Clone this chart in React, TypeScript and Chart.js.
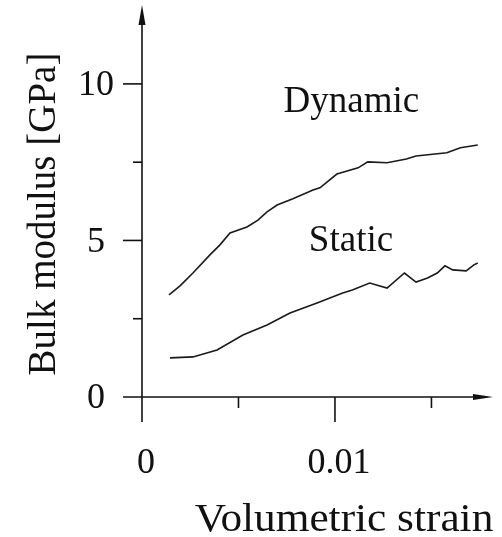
import React, { useEffect, useRef } from "react";
import { Chart, registerables } from "chart.js";

Chart.register(...registerables);

// Volumetric strain (x) and bulk modulus in GPa (y)
const dynamicStrain = [0.0014, 0.00197, 0.00264, 0.00352, 0.00404, 0.00456, 0.00544, 0.00601, 0.00648, 0.007, 0.00782, 0.00886, 0.00922, 0.0101, 0.0112, 0.0117, 0.0127, 0.0137, 0.0142, 0.0158, 0.0165, 0.0174];
const dynamicModulus = [3.26, 3.55, 3.96, 4.54, 4.86, 5.24, 5.43, 5.65, 5.91, 6.13, 6.33, 6.61, 6.68, 7.12, 7.32, 7.51, 7.48, 7.6, 7.7, 7.8, 7.96, 8.05];

const staticStrain = [0.00145, 0.00264, 0.00389, 0.00523, 0.00648, 0.00767, 0.00907, 0.0104, 0.0109, 0.0118, 0.0127, 0.0136, 0.0142, 0.0148, 0.0153, 0.0157, 0.0161, 0.0168, 0.0172, 0.0174];
const staticModulus = [1.25, 1.28, 1.5, 1.98, 2.3, 2.68, 3.0, 3.32, 3.42, 3.64, 3.48, 3.96, 3.67, 3.8, 3.96, 4.19, 4.06, 4.03, 4.22, 4.28];

const xTickValues = [0, 0.005, 0.01, 0.015];
const xTickLabels = ["0", "", "0.01", ""];
const yTickValues = [0, 2.5, 5, 7.5, 10];
const yTickLabels = ["0", "", "5", "", "10"];

const seriesNames = ["Dynamic", "Static"];
const xTitle = "Volumetric strain";
const yTitle = "Bulk modulus [GPa]";

const FONT = "'Liberation Serif', 'Times New Roman', Times, serif";
const INK = "#111";

const axesPlugin = {
  id: "axesPlugin",
  afterDraw(chart: any) {
    const ctx = chart.ctx as CanvasRenderingContext2D;
    const xs = chart.scales.x;
    const ys = chart.scales.y;
    const area = chart.chartArea;
    const x0 = xs.getPixelForValue(0);
    const y0 = ys.getPixelForValue(0);
    ctx.save();
    ctx.strokeStyle = INK;
    ctx.fillStyle = INK;
    ctx.lineWidth = 1.6;

    // y axis (extends below x axis as the 0 tick)
    ctx.beginPath();
    ctx.moveTo(x0, y0 + 25);
    ctx.lineTo(x0, area.top + 10);
    ctx.stroke();
    // x axis (extends left of y axis as the 0 tick)
    ctx.beginPath();
    ctx.moveTo(x0 - 19, y0);
    ctx.lineTo(area.right - 10, y0);
    ctx.stroke();

    // arrowheads
    ctx.beginPath();
    ctx.moveTo(x0, area.top);
    ctx.lineTo(x0 - 3.5, area.top + 20);
    ctx.lineTo(x0 + 3.5, area.top + 20);
    ctx.closePath();
    ctx.fill();
    ctx.beginPath();
    ctx.moveTo(area.right, y0);
    ctx.lineTo(area.right - 20, y0 - 3);
    ctx.lineTo(area.right - 20, y0 + 3);
    ctx.closePath();
    ctx.fill();

    // x ticks
    xTickValues.forEach((v, i) => {
      if (v === 0) return;
      const px = xs.getPixelForValue(v);
      const len = xTickLabels[i] ? 25 : 11;
      ctx.beginPath();
      ctx.moveTo(px, y0);
      ctx.lineTo(px, y0 + len);
      ctx.stroke();
    });
    // y ticks
    yTickValues.forEach((v, i) => {
      if (v === 0) return;
      const py = ys.getPixelForValue(v);
      const len = yTickLabels[i] ? 19 : 9;
      ctx.beginPath();
      ctx.moveTo(x0 - len, py);
      ctx.lineTo(x0, py);
      ctx.stroke();
    });

    // tick labels
    ctx.font = `36px ${FONT}`;
    ctx.textBaseline = "middle";
    ctx.textAlign = "center";
    xTickValues.forEach((v, i) => {
      if (!xTickLabels[i]) return;
      ctx.fillText(xTickLabels[i], xs.getPixelForValue(v) + 4, y0 + 67);
    });
    yTickValues.forEach((v, i) => {
      if (!yTickLabels[i]) return;
      ctx.fillText(yTickLabels[i], x0 - 46, ys.getPixelForValue(v) + 2);
    });

    // axis titles
    ctx.font = `39px ${FONT}`;
    ctx.textAlign = "center";
    ctx.save();
    ctx.translate(344, y0 + 124);
    ctx.scale(1.11, 1);
    ctx.fillText(xTitle, 0, 0);
    ctx.restore();
    ctx.save();
    ctx.translate(45, 214);
    ctx.rotate(-Math.PI / 2);
    ctx.fillText(yTitle, 0, 0);
    ctx.restore();

    // curve labels
    ctx.font = `37px ${FONT}`;
    ctx.fillText(seriesNames[0], xs.getPixelForValue(0.01085), ys.getPixelForValue(9.42));
    ctx.fillText(seriesNames[1], xs.getPixelForValue(0.01083), ys.getPixelForValue(4.98));
    ctx.restore();
  },
};

export default function App() {
  const canvasRef = useRef<HTMLCanvasElement | null>(null);

  useEffect(() => {
    if (!canvasRef.current) return;
    const toPoints = (xsArr: number[], ysArr: number[]) => xsArr.map((x, i) => ({ x, y: ysArr[i] }));
    const chart = new Chart(canvasRef.current, {
      type: "line",
      data: {
        datasets: [
          {
            label: seriesNames[0],
            data: toPoints(dynamicStrain, dynamicModulus),
            borderColor: "#1a1a1a",
            borderWidth: 1.6,
            pointRadius: 0,
            tension: 0,
            fill: false,
          },
          {
            label: seriesNames[1],
            data: toPoints(staticStrain, staticModulus),
            borderColor: "#1a1a1a",
            borderWidth: 1.6,
            pointRadius: 0,
            tension: 0,
            fill: false,
          },
        ],
      },
      options: {
        animation: false,
        responsive: false,
        maintainAspectRatio: false,
        layout: { padding: { left: 142, right: 9, top: 5, bottom: 140 } },
        plugins: { legend: { display: false }, tooltip: { enabled: false } },
        scales: {
          x: { type: "linear", min: 0, max: 0.01819, display: false },
          y: { type: "linear", min: 0, max: 12.52, display: false },
        },
      },
      plugins: [axesPlugin],
    });
    return () => chart.destroy();
  }, []);

  return (
    <div style={{ position: "fixed", left: 0, top: 0, width: 502, height: 537, background: "#fff" }}>
      <canvas ref={canvasRef} width={502} height={537} style={{ display: "block" }} />
    </div>
  );
}
